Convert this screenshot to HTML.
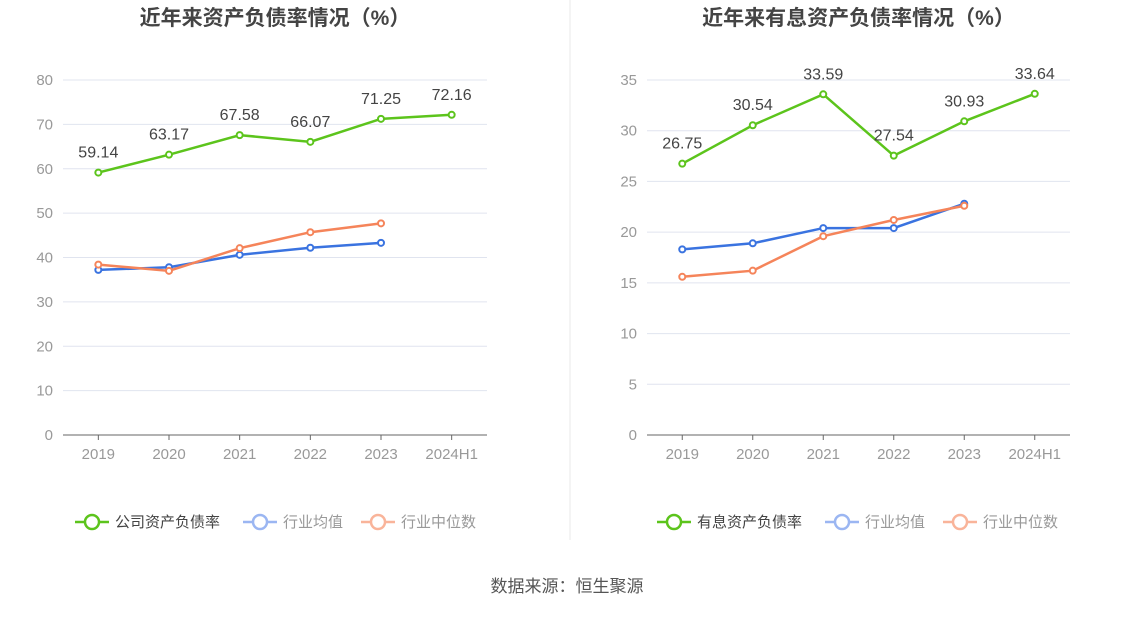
<!DOCTYPE html>
<html><head><meta charset="utf-8"><style>
body{margin:0;background:#fff;width:1134px;height:612px;overflow:hidden;font-family:"Liberation Sans","Noto Sans CJK SC",sans-serif;}
svg text{font-family:"Liberation Sans","Noto Sans CJK SC",sans-serif;}
</style></head><body>
<svg id="svg" width="1134" height="612">
<line x1="570" y1="0" x2="570" y2="540" stroke="#e8e8e8"/>
<text x="567" y="592" text-anchor="middle" font-size="17" fill="#555">数据来源：恒生聚源</text>
</svg>
<script>
const years=["2019","2020","2021","2022","2023","2024H1"];
const leftCompany=[59.14,63.17,67.58,66.07,71.25,72.16];
const leftAvg=[37.2,37.8,40.6,42.2,43.3];
const leftMed=[38.4,37.0,42.1,45.7,47.7];
const leftTicks=[0,10,20,30,40,50,60,70,80];
const rightCompany=[26.75,30.54,33.59,27.54,30.93,33.64];
const rightAvg=[18.3,18.9,20.4,20.4,22.8];
const rightMed=[15.6,16.2,19.6,21.2,22.6];
const rightTicks=[0,5,10,15,20,25,30,35];
const NS="http://www.w3.org/2000/svg";
const svg=document.getElementById('svg');
function mk(t,a,p){const e=document.createElementNS(NS,t);for(const k in a)e.setAttribute(k,a[k]);(p||svg).appendChild(e);return e;}
function chart(cfg){
 const {x0,x1,title,ticks,max,comp,avg,med,name,label,legendStart}=cfg;
 const yb=435,yt=80;
 const Y=v=>yb-(v/max)*(yb-yt);
 const step=(x1-x0)/years.length;
 const X=i=>x0+step*(i+0.5);
 const g=mk('g',{});
 
 
 const t=mk('text',{x:(x0+x1)/2,y:25,'text-anchor':'middle','font-size':21,'font-weight':'bold',fill:'#444'},g);
 t.textContent=title;
 
 
 ticks.forEach(v=>{
  const l=mk('line',{x1:x0,x2:x1,y1:Y(v),y2:Y(v),stroke:v===0?'#666':'#e0e4ef'},g);
  
  
  const tx=mk('text',{x:x0-10,y:Y(v)+5,'text-anchor':'end','font-size':15,fill:'#999'},g);
  tx.textContent=v;
  
  
 });
 years.forEach((y,i)=>{
  const l=mk('line',{x1:X(i),x2:X(i),y1:yb,y2:yb+5,stroke:'#666'},g);
  
  
  const tx=mk('text',{x:X(i),y:459,'text-anchor':'middle','font-size':15,fill:'#999'},g);
  tx.textContent=y;
  
  
 });
 function series(d,c,n,labels){
  const p=mk('polyline',{points:d.map((v,i)=>X(i)+','+Y(v)).join(' '),fill:'none',stroke:c,'stroke-width':2.5},g);
  
  
  d.forEach((v,i)=>{
   const ci=mk('circle',{cx:X(i),cy:Y(v),r:3,fill:'#fff',stroke:c,'stroke-width':2},g);
   
   
   if(labels){
    const tx=mk('text',{x:X(i),y:Y(v)-15,'text-anchor':'middle','font-size':16,fill:'#444'},g);
    tx.textContent=v.toFixed(2);
    
    
   }
  });
 }
 series(avg,'#3a73e0','industry-average');
 series(med,'#f5845a','industry-median');
 series(comp,'#5cc41c','company',true);
 const legs=[[label,'#5cc41c'],['行业均值','#9bb6f2'],['行业中位数','#f9b49a']];
 let lx=legendStart;
 const widths=[168,118,130];
 legs.forEach((L,i)=>{
  const lg=mk('g',{},g);
  
  
  mk('line',{x1:lx,x2:lx+34,y1:522,y2:522,stroke:L[1],'stroke-width':2.5},lg);
  mk('circle',{cx:lx+17,cy:522,r:7,fill:'#fff',stroke:L[1],'stroke-width':2.5},lg);
  const tx=mk('text',{x:lx+40,y:527,'font-size':15,fill:i===0?'#444':'#999'},lg);
  tx.textContent=L[0];
  lx+=widths[i];
 });
}
chart({x0:63,x1:487,title:'近年来资产负债率情况（%）',ticks:leftTicks,max:80,comp:leftCompany,avg:leftAvg,med:leftMed,name:'left-chart',label:'公司资产负债率',legendStart:75});
chart({x0:647,x1:1070,title:'近年来有息资产负债率情况（%）',ticks:rightTicks,max:35,comp:rightCompany,avg:rightAvg,med:rightMed,name:'right-chart',label:'有息资产负债率',legendStart:657});
</script>
</body></html>
